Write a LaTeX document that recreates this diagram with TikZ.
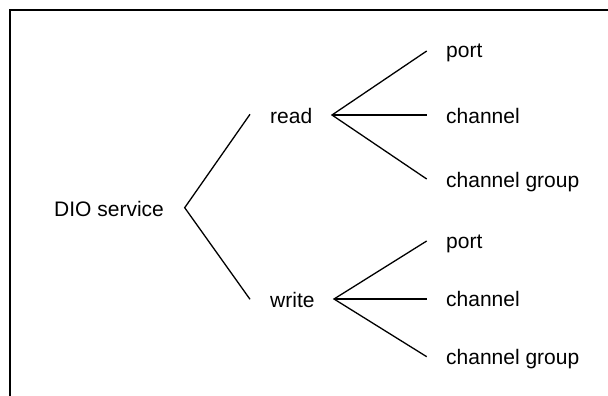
\documentclass[tikz,border=0pt]{standalone}
\usepackage{fontspec}
\setmainfont{Liberation Sans}
\begin{document}
\begin{tikzpicture}[x=1pt,y=-1pt,
  lbl/.style={anchor=base west,inner sep=0pt,font=\fontsize{21}{25}\selectfont},
  branch/.style={line width=1.3pt,line join=miter},
  frame/.style={line width=2pt}]
\useasboundingbox (0,0) rectangle (608,396);
\draw[frame] (608,9.8) -- (10.2,9.8) -- (10.2,396);
% labels
\node[lbl] (dio) at (54,216) {DIO service};
\node[lbl] (read) at (270,123) {read};
\node[lbl] (write) at (270,307) {write};
\node[lbl] (rport) at (446,58) {port};
\node[lbl] (rchan) at (446,123) {channel};
\node[lbl] (rgroup) at (446,187) {channel group};
\node[lbl] (wport) at (446,248) {port};
\node[lbl] (wchan) at (446,306) {channel};
\node[lbl] (wgroup) at (446,364) {channel group};
% branch points and ends
\coordinate (v0) at (184.7,207.7);
\coordinate (v0a) at (250,114.3);
\coordinate (v0b) at (250,299.3);
\coordinate (v1) at (332,115);
\coordinate (v1a) at (426.7,51);
\coordinate (v1b) at (426.7,115);
\coordinate (v1c) at (426.7,179);
\coordinate (v2) at (334,299);
\coordinate (v2a) at (426.7,241);
\coordinate (v2b) at (426.7,299);
\coordinate (v2c) at (426.7,356.7);
\draw[branch] (v0a) -- (v0) -- (v0b);
\draw[branch] (v1a) -- (v1) -- (v1c);
\draw[branch] (v1) -- (v1b);
\draw[branch] (v2a) -- (v2) -- (v2c);
\draw[branch] (v2) -- (v2b);
\end{tikzpicture}
\end{document}
